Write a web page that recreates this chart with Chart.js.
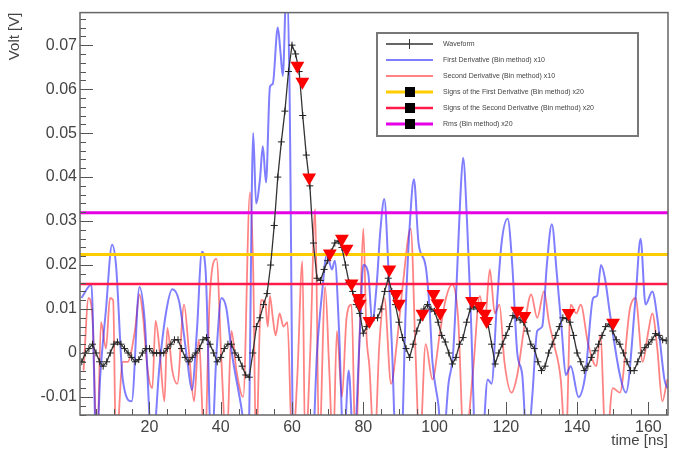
<!DOCTYPE html>
<html>
<head>
<meta charset="utf-8">
<script src="https://cdn.jsdelivr.net/npm/chart.js@4.4.0/dist/chart.umd.min.js"></script>
<style>
  html, body { margin: 0; padding: 0; background: #fff; }
</style>
</head>
<body>
<canvas id="waveChart" width="676" height="451"></canvas>
<script>
// Waveform, sampled every 1 ns from t = 1 ns
const waveStart = 1;
const waveVolt = [
  -0.002, 0.000, 0.001, 0.002, 0.000, -0.002, -0.003, -0.002, 0.000, 0.002,
  0.0025, 0.002, 0.001, 0.000, -0.001, -0.002, -0.0015, 0.000, 0.001, 0.001,
  0.000, 0.000, 0.000, 0.000, 0.001, 0.002, 0.003, 0.003, 0.001, -0.001,
  -0.002, -0.001, 0.000, 0.001, 0.003, 0.0035, 0.002, 0.000, -0.002, -0.001,
  0.001, 0.002, 0.002, 0.000, -0.001, -0.003, -0.005, -0.0055, 0.000, 0.006,
  0.008, 0.011, 0.0135, 0.020, 0.029, 0.040, 0.048, 0.055, 0.064, 0.070,
  0.068, 0.064, 0.054, 0.045, 0.038, 0.025, 0.017, 0.0165, 0.019, 0.021,
  0.023, 0.025, 0.0255, 0.024, 0.020, 0.016, 0.014, 0.011, 0.009, 0.0045,
  0.006, 0.0075, 0.008, 0.008, 0.010, 0.014, 0.017, 0.014, 0.011, 0.007,
  0.0035, 0.001, -0.001, 0.002, 0.005, 0.0075, 0.010, 0.011, 0.010, 0.0095,
  0.007, 0.004, 0.0025, 0.000, -0.0025, -0.001, 0.002, 0.0035, 0.007, 0.010,
  0.0105, 0.010, 0.0095, 0.008, 0.0065, 0.002, -0.0025, 0.000, 0.002, 0.004,
  0.006, 0.0085, 0.008, 0.0075, 0.007, 0.005, 0.002, 0.001, -0.002, -0.004,
  -0.003, 0.000, 0.002, 0.004, 0.006, 0.008, 0.0078, 0.007, 0.004, 0.000,
  -0.002, -0.004, -0.003, -0.001, 0.0005, 0.002, 0.004, 0.006, 0.0066, 0.005,
  0.003, 0.002, 0.000, -0.002, -0.004, -0.004, -0.002, 0.000, 0.0012, 0.002,
  0.003, 0.0044, 0.004, 0.003, 0.0028
];

// First derivative (bin method) x10, turning points
const firstTime = [
  0.9, 3.7, 5.1, 6.2, 7.8, 9.5, 10.6, 12.5, 15, 17.2, 18.6, 20.8, 22.8, 24.7, 26.4, 28.3,
  30.5, 31.9, 33.3, 34.7, 35.8, 37.4, 38.8, 40.2, 41.6, 43, 45.7, 47.7, 49.1, 49.9, 51,
  51.8, 52.7, 53.8, 54.6, 56, 56.8, 57.4, 58.5, 59.3, 60.4, 63, 65.7, 67, 68.4, 69.8,
  71.2, 72, 73.2, 74.5, 75.9, 77.3, 79, 80, 81.4, 82.5, 83.7, 84.8, 85.9, 87, 88.1,
  89.2, 90.6, 91.9, 93.1, 94.2, 95.5, 97.5, 98.6, 99.4, 101.1, 102.2, 103.9, 105.2,
  106.3, 107.2, 108, 109.1, 110.2, 111.6, 113.2, 114.9, 116, 117.4, 118.8, 120.5,
  121.8, 123.2, 124.6, 126, 127.4, 128.8, 130.2, 131.5, 132.9, 134.3, 135.7, 136.8,
  138.2, 140.4, 142.3, 144.5, 145.6, 146.7, 147.8, 149.2, 152, 153.7, 156.4, 157.8,
  159.2, 161.1, 162.5, 164.5, 165.3
];
const firstVolt = [
  0.0125, 0.0156, -0.022, -0.005, 0.010, 0.0246, 0.020, -0.006, -0.011, 0.015, 0.008, -0.022, -0.003, 0.0095, 0.0145, 0.0118,
  -0.001, -0.0084, 0.005, 0.023, 0.018, -0.022, 0.000, 0.0125, 0.010, 0.0006, -0.012, -0.022, 0.050, 0.034, 0.0395,
  0.047, 0.0388, 0.0605, 0.0612, 0.074, 0.068, 0.063, 0.085, 0.060, -0.022, -0.022, -0.022, 0.000, 0.0135, 0.0224,
  0.019, 0.021, 0.005, -0.022, -0.004, -0.022, 0.004, 0.020, 0.018, 0.007, 0.015, 0.028, 0.035, 0.020, 0.000,
  -0.022, -0.022, 0.010, 0.030, 0.0395, 0.025, 0.0197, 0.010, -0.002, -0.012, -0.022, -0.007, 0.000,
  0.018, 0.035, 0.0444, 0.030, 0.008, -0.022, -0.022, -0.006, -0.007, 0.010, 0.025, 0.0305,
  0.020, 0.000, -0.005, -0.022, -0.010, 0.005, 0.006, 0.020, 0.0293, 0.018, 0.005, -0.005,
  -0.003, -0.010, -0.005, 0.0125, 0.013, 0.020, 0.017, 0.009, -0.005, -0.009, 0.0125, 0.026,
  0.011, 0.014, 0.008, -0.006, -0.008
];

// Second derivative (bin method) x10, turning points
const secondTime = [
  1.5, 2.9, 4, 5.3, 6.4, 7.8, 8.9, 9.8, 10.6, 12.5, 13.9, 15.9, 17.2, 18.1, 19.5, 20.8,
  21.7, 22.8, 24.2, 25, 26.4, 27.8, 29.7, 31.1, 32.5, 33.8, 35.5, 36.9, 38.8, 40.2,
  41.6, 43, 44.4, 46.3, 48.2, 49.1, 49.9, 51.3, 52.4, 53.2, 53.8, 54.6, 55.4, 56.5,
  57.6, 58.7, 60.1, 61.5, 62.9, 63.7, 65.1, 66.5, 67.6, 69.3, 70.4, 71.5, 72.6, 74,
  75.3, 76.7, 77.8, 79, 80, 80.9, 81.7, 83.1, 84.5, 85.9, 87.8, 89.5, 91.1, 93.3,
  94.7, 95.8, 97.5, 99.4, 101.4, 103, 104.9, 106.6, 108.3, 110.8, 112.7, 114.1, 115.5,
  116.9, 118.2, 119.6, 121.6, 123.2, 125.2, 127.1, 128.8, 130.7, 132.1, 133.5, 135.4,
  136.8, 138.2, 139.8, 141, 143.1, 145.4, 146.5, 148.1, 150, 152, 154.8, 156.4, 158.4,
  160, 161.1, 162.5, 163.9, 165.3
];
const secondVolt = [
  -0.004, 0.0125, 0.008, -0.022, 0.007, 0.001, 0.0125, 0.012, -0.022, -0.002, -0.002, 0.005, 0.0133, 0.009, -0.004, -0.008,
  0.0073, 0.001, -0.011, 0.0057, -0.004, -0.007, 0.011, 0.000, -0.011, 0.003, -0.022, 0.0125, 0.0214, -0.002,
  -0.022, 0.005, -0.004, -0.010, 0.0365, 0.019, -0.022, 0.012, 0.0118, 0.006, 0.013, 0.008, 0.004, 0.009,
  0.006, 0.007, -0.022, -0.005, 0.0208, -0.022, 0.000, 0.0327, -0.022, 0.015, -0.003, -0.022, 0.005, -0.010,
  0.008, 0.011, -0.022, 0.005, 0.0283, 0.004, -0.003, -0.022, 0.002, 0.0125, -0.007, 0.003, 0.0156, 0.0283,
  -0.001, -0.022, 0.002, -0.006, 0.004, 0.0118, 0.0156, 0.008, -0.022, -0.004, 0.013, 0.007, 0.019,
  0.009, 0.011, -0.002, -0.009, -0.005, 0.006, 0.0133, 0.008, 0.014, 0.007, 0.002, -0.006,
  -0.022, 0.011, 0.009, 0.011, 0.002, -0.003, 0.004, -0.022, -0.008, -0.009, 0.010, 0.0125, -0.002,
  0.005, 0.009, 0.001, -0.011, -0.006
];

// Red triangle markers on the waveform
const markTime = [
  61.5, 62.9, 64.8, 70.6, 74.0, 75.3, 76.7, 78.7, 79.0, 81.7, 87.3, 89.2, 90.0,
  96.6, 99.7, 100.8, 101.6, 110.5, 112.7, 114.1, 114.6, 123.2, 125.2, 137.6, 150.1
];
const markVolt = [
  0.0653, 0.0617, 0.0399, 0.0226, 0.0260, 0.0237, 0.0158, 0.0125, 0.0112, 0.0073, 0.0190, 0.0134, 0.0112,
  0.0089, 0.0134, 0.0113, 0.0091, 0.0118, 0.0107, 0.0089, 0.0073, 0.0096, 0.0084, 0.0091, 0.0069
];

// Horizontal levels
const firstSignLevel = 0.0224;
const secondSignLevel = 0.0157;
const rmsLevel = 0.0319;

const xRange = [0.5, 165.5];
const yRange = [-0.0141, 0.0774];
const xTicks = [20, 40, 60, 80, 100, 120, 140, 160];
const yTicks = [-0.01, 0, 0.01, 0.02, 0.03, 0.04, 0.05, 0.06, 0.07];

const legendLabels = [
  'Waveform',
  'First Derivative (Bin method) x10',
  'Second Derivative (Bin method) x10',
  'Signs of the First Derivative (Bin method) x20',
  'Signs of the Second Derivative (Bin method) x20',
  'Rms (Bin method) x20'
];

const FONT = '"Liberation Sans", Arial, Helvetica, sans-serif';

function pairs(xs, ys) {
  return xs.map((x, i) => ({ x: x, y: ys[i] }));
}
function level(v) {
  return [{ x: xRange[0], y: v }, { x: xRange[1], y: v }];
}

const wavePoints = waveVolt.map((v, i) => ({ x: waveStart + i, y: v }));

// ROOT style frame and inner ticks
const rootFrame = {
  id: 'rootFrame',
  afterDatasetsDraw(chart) {
    const { ctx, chartArea: a, scales: { x, y } } = chart;
    ctx.save();
    ctx.strokeStyle = '#555';
    ctx.lineWidth = 1;
    ctx.beginPath();
    for (let k = -7; k <= 38; k++) {
      const v = k * 0.002;
      if (v < yRange[0] || v > yRange[1]) continue;
      const py = Math.round(y.getPixelForValue(v)) + 0.5;
      const len = k % 5 === 0 ? 13 : 6;
      ctx.moveTo(a.left, py);
      ctx.lineTo(a.left + len, py);
    }
    for (let k = 1; k <= 33; k++) {
      const v = k * 5;
      const px = Math.round(x.getPixelForValue(v)) + 0.5;
      const len = k % 4 === 0 ? 13 : 6;
      ctx.moveTo(px, a.bottom);
      ctx.lineTo(px, a.bottom - len);
    }
    ctx.stroke();
    ctx.strokeStyle = '#666';
    ctx.lineWidth = 1.5;
    ctx.strokeRect(a.left, a.top, a.right - a.left, a.bottom - a.top);
    ctx.restore();
  },
  afterDraw(chart) {
    const ctx = chart.ctx;
    const ds = chart.data.datasets;
    const box = { left: 377, top: 33, width: 261, height: 103 };
    ctx.save();
    ctx.fillStyle = '#fff';
    ctx.fillRect(box.left, box.top, box.width, box.height);
    ctx.strokeStyle = '#777';
    ctx.lineWidth = 2;
    ctx.strokeRect(box.left, box.top, box.width, box.height);
    const rows = [
      { d: ds[1], tick: true },
      { d: ds[5] },
      { d: ds[6] },
      { d: ds[3], square: true },
      { d: ds[4], square: true },
      { d: ds[2], square: true }
    ];
    ctx.font = '7px ' + FONT;
    ctx.textBaseline = 'middle';
    rows.forEach((r, i) => {
      const yy = box.top + 11 + i * 16;
      ctx.strokeStyle = r.d.borderColor;
      ctx.lineWidth = r.d.borderWidth;
      ctx.beginPath();
      ctx.moveTo(box.left + 9, yy);
      ctx.lineTo(box.left + 56, yy);
      ctx.stroke();
      if (r.tick) {
        ctx.lineWidth = 1;
        ctx.beginPath();
        ctx.moveTo(box.left + 32.5, yy - 5);
        ctx.lineTo(box.left + 32.5, yy + 5);
        ctx.stroke();
      }
      if (r.square) {
        ctx.fillStyle = '#000';
        ctx.fillRect(box.left + 28, yy - 5, 10, 10);
      }
      ctx.fillStyle = '#444';
      ctx.fillText(legendLabels[i], box.left + 66, yy);
    });
    ctx.restore();
  }
};

const ctx = document.getElementById('waveChart').getContext('2d');
new Chart(ctx, {
  type: 'line',
  data: {
    datasets: [
      {
        label: 'Signs',
        data: pairs(markTime, markVolt),
        showLine: false,
        pointStyle: 'triangle',
        rotation: 180,
        pointRadius: 8,
        backgroundColor: '#ff0000',
        borderColor: '#ff0000',
        borderWidth: 0
      },
      {
        label: legendLabels[0],
        data: wavePoints,
        borderColor: '#333333',
        borderWidth: 1.3,
        pointStyle: 'cross',
        pointRadius: 3.5,
        pointBorderColor: '#222222',
        pointBorderWidth: 1,
        tension: 0
      },
      {
        label: legendLabels[5],
        data: level(rmsLevel),
        borderColor: '#e600e6',
        borderWidth: 3,
        pointRadius: 0
      },
      {
        label: legendLabels[3],
        data: level(firstSignLevel),
        borderColor: '#ffcc00',
        borderWidth: 3,
        pointRadius: 0
      },
      {
        label: legendLabels[4],
        data: level(secondSignLevel),
        borderColor: '#ff1a4a',
        borderWidth: 2.5,
        pointRadius: 0
      },
      {
        label: legendLabels[1],
        data: pairs(firstTime, firstVolt),
        borderColor: 'rgba(40, 40, 255, 0.6)',
        borderWidth: 2,
        pointRadius: 0,
        cubicInterpolationMode: 'monotone'
      },
      {
        label: legendLabels[2],
        data: pairs(secondTime, secondVolt),
        borderColor: 'rgba(255, 30, 30, 0.55)',
        borderWidth: 1.8,
        pointRadius: 0,
        cubicInterpolationMode: 'monotone'
      }
    ]
  },
  options: {
    responsive: false,
    animation: false,
    devicePixelRatio: 1,
    layout: { padding: { top: 8, right: 1, left: 0, bottom: 0 } },
    plugins: {
      legend: { display: false },
      tooltip: { enabled: false }
    },
    scales: {
      x: {
        type: 'linear',
        min: xRange[0],
        max: xRange[1],
        afterBuildTicks: s => { s.ticks = xTicks.map(v => ({ value: v })); },
        afterFit: s => { s.height = 36; },
        grid: { display: false, drawTicks: false },
        border: { display: false },
        ticks: {
          autoSkip: false,
          maxRotation: 0,
          padding: 3,
          color: '#444',
          font: { family: FONT, size: 16 }
        },
        title: {
          display: true,
          text: 'time [ns]',
          align: 'end',
          color: '#444',
          padding: { top: 0, bottom: 1 },
          font: { family: FONT, size: 15 }
        }
      },
      y: {
        type: 'linear',
        min: yRange[0],
        max: yRange[1],
        afterBuildTicks: s => { s.ticks = yTicks.map(v => ({ value: v })); },
        afterFit: s => { s.width = 80; },
        grid: { display: false, drawTicks: false },
        border: { display: false },
        ticks: {
          padding: 3,
          color: '#444',
          font: { family: FONT, size: 16 },
          callback: v => (Math.abs(v) < 1e-9 ? '0' : v.toFixed(2))
        },
        title: {
          display: true,
          text: 'Volt [V]',
          align: 'end',
          color: '#444',
          padding: { top: 6, bottom: 0 },
          font: { family: FONT, size: 15 }
        }
      }
    }
  },
  plugins: [rootFrame]
});
</script>
</body>
</html>
